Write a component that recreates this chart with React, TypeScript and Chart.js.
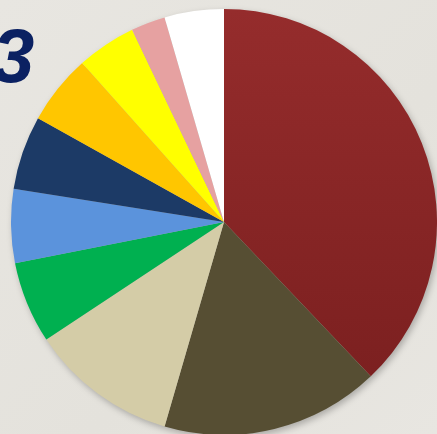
import React, { useEffect, useRef } from "react";
import { Chart, registerables } from "chart.js";

Chart.register(...registerables);

const categories = ["A", "B", "C", "D", "E", "F", "G", "H", "I", "J"];
const values = [37.9, 16.6, 11.2, 6.2, 5.6, 5.6, 5.3, 4.5, 2.6, 4.5];
const colors = ["#8A2626", "#564E33", "#D4CCA7", "#00B050", "#5B93DC", "#1C3A66", "#FFC600", "#FFFF00", "#E6A1A1", "#FFFFFF"];
const titleText = "3";

export default function App() {
  const ref = useRef<HTMLCanvasElement>(null);
  useEffect(() => {
    document.body.style.margin = "0";
    document.body.style.overflow = "hidden";
    const chart = new Chart(ref.current!, {
      type: "pie",
      data: {
        labels: categories,
        datasets: [
          {
            data: values,
            borderWidth: 0,
            backgroundColor: (ctx: any) => {
              const i = ctx.dataIndex;
              if (i === 0) {
                const area = ctx.chart.chartArea;
                if (!area) return colors[0];
                const g = ctx.chart.ctx.createLinearGradient(0, area.top, 0, area.bottom);
                g.addColorStop(0, "#952C2C");
                g.addColorStop(1, "#781E1E");
                return g;
              }
              return colors[i];
            },
          },
        ],
      },
      options: {
        responsive: false,
        animation: false,
        layout: { padding: 0 },
        plugins: { legend: { display: false }, tooltip: { enabled: false } },
      },
    });
    return () => chart.destroy();
  }, []);
  return (
    <div
      style={{
        position: "fixed",
        left: 0,
        top: 0,
        width: 437,
        height: 434,
        overflow: "hidden",
        background: "linear-gradient(135deg, #E8E6E1 0%, #E4E2DC 60%, #E8E6E1 100%)",
      }}
    >
      <div
        style={{
          position: "absolute",
          left: -8,
          top: 14,
          fontFamily: "'Liberation Sans', Arial, sans-serif",
          fontWeight: "bold",
          fontStyle: "italic",
          fontSize: 76,
          lineHeight: "84px",
          color: "#0B2162",
        }}
      >
        {titleText}
      </div>
      <canvas
        ref={ref}
        width={426}
        height={426}
        style={{
          position: "absolute",
          left: 11,
          top: 9,
          width: 426,
          height: 426,
          filter: "drop-shadow(2px 3px 3px rgba(0,0,0,0.25))",
        }}
      />
    </div>
  );
}
